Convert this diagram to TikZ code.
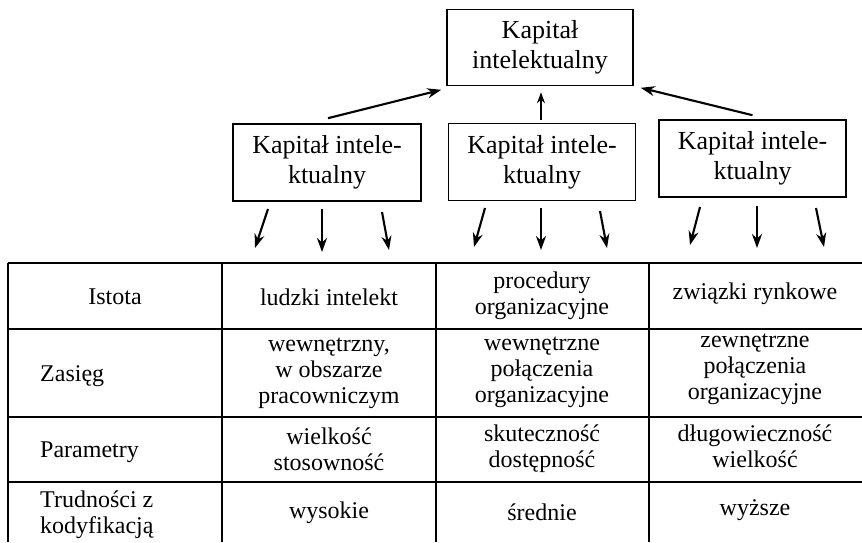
\documentclass[tikz,border=0pt]{standalone}
\usepackage{fontspec}
\setmainfont{Liberation Serif}
\usetikzlibrary{arrows.meta}
\begin{document}
\begin{tikzpicture}[x=1pt,y=-1pt,
  box/.style={draw,line width=1.6pt,align=center,inner sep=0pt,font=\fontsize{26}{30}\selectfont},
  cell/.style={align=center,inner sep=0pt,font=\fontsize{24}{26}\selectfont},
  lcell/.style={align=left,anchor=west,inner sep=0pt,font=\fontsize{24}{26}\selectfont},
  arr/.style={line width=2.1pt,-{Stealth[length=14pt,width=10pt]}},
  grid/.style={line width=1.7pt}]
\useasboundingbox (0,0) rectangle (862,542);
% boxes
\node[box,minimum width=186pt,minimum height=76pt] (T) at (540,47.5) {Kapitał\\intelektualny};
\node[box,minimum width=188pt,minimum height=77pt] (L) at (327,162.5) {Kapitał intele-\\ktualny};
\node[box,minimum width=187pt,minimum height=77pt] (M) at (542,162) {Kapitał intele-\\ktualny};
\node[box,minimum width=187pt,minimum height=77pt] (R) at (752.5,158.5) {Kapitał intele-\\ktualny};
% arrows up
\draw[arr] ([xshift=1pt,yshift=5pt]L.north) -- ([xshift=-5pt,yshift=-3.5pt]T.south west);
\draw[arr,line width=1.6pt,-{Stealth[length=11pt,width=8pt]}] ([xshift=-1pt,yshift=3pt]M.north) -- ([xshift=1pt,yshift=-6pt]T.south);
\draw[arr] ([yshift=4pt]R.north) -- ([xshift=7pt,yshift=-1.5pt]T.south east);
% arrows down
\foreach \n/\sx/\sy/\ex/\ey in {a1/268/209/255/248, a2/322/209/322/252, a3/382/212/389/250,
  b1/485/208/474/247, b2/541/208/541/250, b3/600/211/607/248,
  c1/700/207/690/245, c2/757/206/757/248, c3/816/208/824/247}{
  \coordinate (\n s) at (\sx,\sy);
  \coordinate (\n e) at (\ex,\ey);
  \draw[arr] (\n s) -- (\n e);
}
% table grid
\draw[grid] (8,263) -- (862,263);
\draw[grid] (8,329) -- (862,329);
\draw[grid] (8,417) -- (862,417);
\draw[grid] (8,482) -- (862,482);
\draw[grid] (8,263) -- (8,542);
\draw[grid] (222,263) -- (222,542);
\draw[grid] (436,263) -- (436,542);
\draw[grid] (649,263) -- (649,542);
% row 1
\node[cell] (r1c1) at (115,297) {Istota};
\node[cell] (r1c2) at (329,297) {ludzki intelekt};
\node[cell] (r1c3) at (542,296) {procedury\\organizacyjne};
\node[cell] (r1c4) at (755,294) {związki rynkowe};
% row 2
\node[lcell] (r2c1) at (40,376) {Zasięg};
\node[cell] (r2c2) at (329,373) {wewnętrzny,\\w obszarze\\pracowniczym};
\node[cell] (r2c3) at (542,372) {wewnętrzne\\połączenia\\organizacyjne};
\node[cell] (r2c4) at (755,369) {zewnętrzne\\połączenia\\organizacyjne};
% row 3
\node[lcell] (r3c1) at (40,452) {Parametry};
\node[cell] (r3c2) at (329,449) {wielkość\\stosowność};
\node[cell] (r3c3) at (542,449) {skuteczność\\dostępność};
\node[cell] (r3c4) at (755,446) {długowieczność\\wielkość};
% row 4
\node[lcell] (r4c1) at (40,515) {Trudności z\\kodyfikacją};
\node[cell] (r4c2) at (329,513) {wysokie};
\node[cell] (r4c3) at (542,512) {średnie};
\node[cell] (r4c4) at (755,510) {wyższe};
\end{tikzpicture}
\end{document}
